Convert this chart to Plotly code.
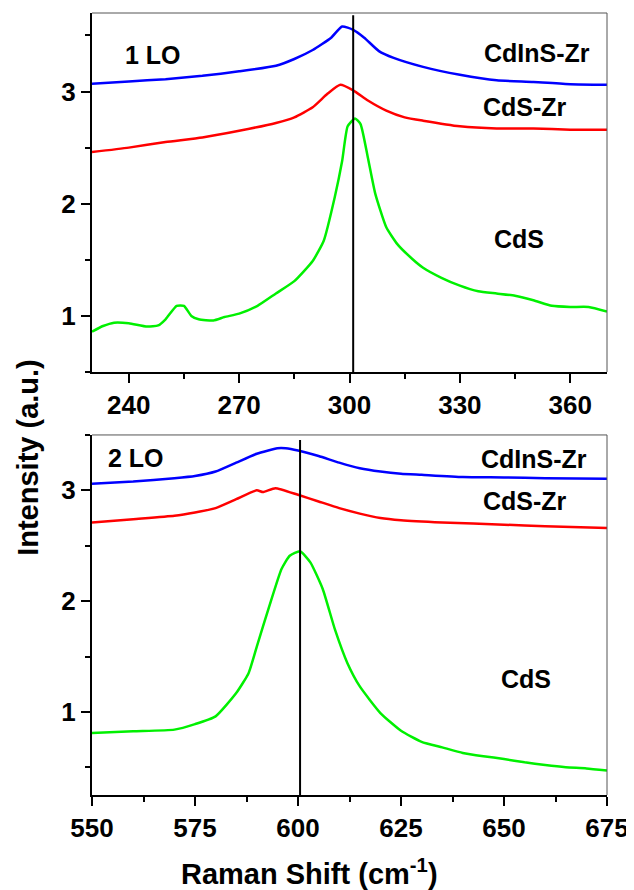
import plotly.graph_objects as go
from plotly.subplots import make_subplots

# ---- Top panel (1 LO) ----
top_x_blue = [230, 240, 250, 260, 270, 280, 285, 290, 295, 298, 301, 304, 308, 312, 320, 330, 340, 350, 360, 370]
top_y_blue = [3.07, 3.09, 3.11, 3.14, 3.18, 3.23, 3.29, 3.37, 3.48, 3.58, 3.55, 3.48, 3.36, 3.30, 3.22, 3.15, 3.10, 3.086, 3.065, 3.06]

top_x_red = [230, 240, 250, 260, 270, 280, 285, 290, 294, 297.5, 301, 305, 310, 315, 320, 330, 340, 350, 360, 370]
top_y_red = [2.46, 2.50, 2.55, 2.59, 2.65, 2.72, 2.77, 2.86, 2.98, 3.06, 3.01, 2.92, 2.83, 2.77, 2.74, 2.69, 2.67, 2.67, 2.66, 2.66]

top_x_green = [230, 233, 236, 240, 245, 248, 250, 253, 255, 257, 259, 263, 266, 270, 275, 280, 285, 290, 293, 296, 298,
               299.5, 301.5, 303, 305, 307, 310, 313, 317, 320, 325, 330, 335, 340, 345, 350, 355, 360, 365, 370]
top_y_green = [0.86, 0.91, 0.94, 0.935, 0.905, 0.915, 0.97, 1.09, 1.09, 1.00, 0.97, 0.96, 0.99, 1.02, 1.09, 1.20, 1.31, 1.49, 1.67, 2.06, 2.38,
               2.69, 2.76, 2.71, 2.41, 2.09, 1.79, 1.64, 1.51, 1.43, 1.34, 1.27, 1.22, 1.20, 1.18, 1.14, 1.09, 1.08, 1.08, 1.04]

# ---- Bottom panel (2 LO) ----
bot_x_blue = [550, 560, 570, 575, 580, 585, 590, 595, 597, 600, 605, 610, 615, 620, 625, 630, 640, 650, 660, 675]
bot_y_blue = [3.06, 3.08, 3.11, 3.13, 3.17, 3.25, 3.33, 3.38, 3.38, 3.36, 3.31, 3.25, 3.20, 3.17, 3.15, 3.14, 3.12, 3.117, 3.11, 3.105]

bot_x_red = [550, 560, 570, 575, 580, 585, 590, 591.5, 594.5, 600, 605, 610, 615, 620, 625, 635, 650, 660, 675]
bot_y_red = [2.71, 2.74, 2.77, 2.80, 2.84, 2.92, 3.00, 2.985, 3.02, 2.96, 2.90, 2.84, 2.79, 2.75, 2.73, 2.71, 2.69, 2.675, 2.66]

bot_x_green = [550, 560, 570, 575, 580, 585, 588, 590, 593, 596, 598, 600.5, 603, 606, 609, 612, 615, 620, 625, 630,
               635, 640, 645, 650, 655, 660, 665, 670, 675]
bot_y_green = [0.81, 0.825, 0.84, 0.89, 0.96, 1.17, 1.35, 1.59, 1.95, 2.29, 2.41, 2.45, 2.35, 2.11, 1.74, 1.44, 1.23, 0.99, 0.83, 0.73,
               0.68, 0.63, 0.60, 0.575, 0.545, 0.52, 0.50, 0.49, 0.47]

top_vline = 301
bot_vline = 600.5

top_xticks = [240, 270, 300, 330, 360]
bot_xticks = [550, 575, 600, 625, 650, 675]
yticks = [1, 2, 3]

FONT = "Liberation Sans, Arial, sans-serif"
BLUE, RED, GREEN = "#0000FF", "#FF0000", "#00F000"

fig = make_subplots(rows=2, cols=1, vertical_spacing=0.08)

for xs, ys, c in [(top_x_blue, top_y_blue, BLUE), (top_x_red, top_y_red, RED), (top_x_green, top_y_green, GREEN)]:
    fig.add_trace(go.Scatter(x=xs, y=ys, mode="lines", line=dict(color=c, width=2.5, shape="spline", smoothing=0.5),
                             showlegend=False), row=1, col=1)
for xs, ys, c in [(bot_x_blue, bot_y_blue, BLUE), (bot_x_red, bot_y_red, RED), (bot_x_green, bot_y_green, GREEN)]:
    fig.add_trace(go.Scatter(x=xs, y=ys, mode="lines", line=dict(color=c, width=2.5, shape="spline", smoothing=0.5),
                             showlegend=False), row=2, col=1)

# vertical reference lines
fig.add_trace(go.Scatter(x=[top_vline, top_vline], y=[0.5, 3.68], mode="lines",
                         line=dict(color="black", width=2), showlegend=False), row=1, col=1)
fig.add_trace(go.Scatter(x=[bot_vline, bot_vline], y=[0.25, 3.455], mode="lines",
                         line=dict(color="black", width=2), showlegend=False), row=2, col=1)

axis_common = dict(showgrid=False, zeroline=False, showline=True, linecolor="black", linewidth=2,
                   ticks="outside", ticklen=9, tickwidth=2, tickcolor="black",
                   tickfont=dict(family=FONT, size=26, color="black", weight="bold"))

fig.update_xaxes(**axis_common, range=[230, 370], tickvals=top_xticks,
                 minor=dict(dtick=15, tick0=240, ticks="outside", ticklen=5, tickwidth=2, tickcolor="black"),
                 row=1, col=1)
fig.update_xaxes(**axis_common, range=[550, 675], tickvals=bot_xticks,
                 minor=dict(dtick=12.5, tick0=550, ticks="outside", ticklen=5, tickwidth=2, tickcolor="black"),
                 row=2, col=1)
fig.update_yaxes(**axis_common, range=[0.5, 3.7], tickvals=yticks,
                 minor=dict(dtick=0.5, tick0=0.5, ticks="outside", ticklen=5, tickwidth=2, tickcolor="black"),
                 ticklabelstandoff=0, row=1, col=1)
fig.update_yaxes(**axis_common, range=[0.25, 3.5], tickvals=yticks,
                 minor=dict(dtick=0.5, tick0=0.5, ticks="outside", ticklen=5, tickwidth=2, tickcolor="black"),
                 ticklabelstandoff=0, row=2, col=1)

# page has an 8px body margin: offset the margins so the plot areas land where the reference has them
fig.update_layout(
    width=626, height=882,
    margin=dict(l=84, r=23, t=5, b=95),
    plot_bgcolor="white", paper_bgcolor="white",
    font=dict(family=FONT, color="black"),
)
fig.update_layout(
    yaxis=dict(domain=[0.5409, 1.0]),
    yaxis2=dict(domain=[0.0, 0.4604]),
)

# top/right thin frame lines
for xr, yr in [("x domain", "y domain"), ("x2 domain", "y2 domain")]:
    fig.add_shape(type="line", xref=xr, yref=yr, x0=0, x1=1, y0=1, y1=1, line=dict(color="#555555", width=1))
    fig.add_shape(type="line", xref=xr, yref=yr, x0=1, x1=1, y0=0, y1=1, line=dict(color="#555555", width=1))

lab = dict(family=FONT, size=25, color="black", weight="bold")
anns = [
    ("x", "y", 246.6, 3.33, "1 LO"),
    ("x", "y", 351, 3.34, "CdInS-Zr"),
    ("x", "y", 347.6, 2.86, "CdS-Zr"),
    ("x", "y", 346, 1.69, "CdS"),
    ("x2", "y2", 560.6, 3.29, "2 LO"),
    ("x2", "y2", 657.4, 3.28, "CdInS-Zr"),
    ("x2", "y2", 655, 2.90, "CdS-Zr"),
    ("x2", "y2", 655.4, 1.30, "CdS"),
]
for xr, yr, x, y, t in anns:
    fig.add_annotation(xref=xr, yref=yr, x=x, y=y, text=t, showarrow=False, font=lab,
                       xanchor="center", yanchor="middle")

fig.add_annotation(xref="paper", yref="paper", x=-0.123, y=0.432, text="Intensity (a.u.)", textangle=-90,
                   xanchor="center", yanchor="middle",
                   showarrow=False, font=dict(family=FONT, size=29, color="black", weight="bold"))
fig.add_annotation(xref="paper", yref="paper", x=0.422, y=-0.0985, text="Raman Shift (cm<sup>-1</sup>)",
                   xanchor="center", yanchor="middle",
                   showarrow=False, font=dict(family=FONT, size=29, color="black", weight="bold"))

fig.write_html("out.html")
